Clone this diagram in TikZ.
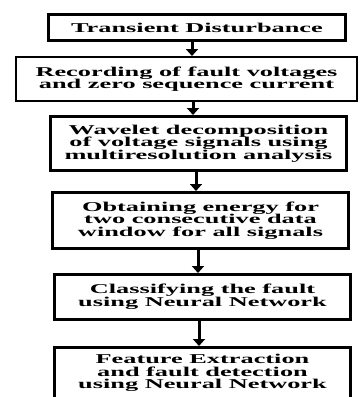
\documentclass[tikz,border=0pt]{standalone}
\usepackage{fontspec}
\setmainfont{Liberation Serif}[FakeStretch=1.95]
\usetikzlibrary{arrows.meta}
\begin{document}
\begin{tikzpicture}[x=1pt,y=-1pt,
  stepbox/.style={draw=black,line width=3pt,align=center,inner sep=0pt,
    font=\fontsize{13.5}{12.6}\selectfont\bfseries},
  arr/.style={line width=3pt,-{Triangle[width=12pt,length=7pt]}}]
\clip (0,0) rectangle (361,397);
\useasboundingbox (0,0) rectangle (361,397);
\fill[white] (0,0) rectangle (361,397);
\node[stepbox,minimum width=297pt,minimum height=26pt] (b1) at (197,27.5) {Transient Disturbance};
\node[stepbox,line width=2pt,minimum width=341pt,minimum height=44pt] (b2) at (186.5,79) {Recording of fault voltages\\and zero sequence current};
\node[stepbox,minimum width=296pt,minimum height=54pt] (b3) at (198.5,143.5) {Wavelet decomposition\\of voltage signals using\\multiresolution analysis};
\node[stepbox,minimum width=296pt,minimum height=56pt] (b4) at (200.5,220.5) {Obtaining energy for\\two consecutive data\\window for all signals};
\node[stepbox,minimum width=296pt,minimum height=45pt] (b5) at (202.5,297) {Classifying the fault\\using Neural Network};
\node[stepbox,minimum width=296pt,minimum height=51pt] (b6) at (202.5,373) {Feature Extraction\\and fault detection\\using Neural Network};
\coordinate (a1) at (192,0);
\coordinate (a2) at (193,0);
\coordinate (a3) at (196,0);
\coordinate (a4) at (198,0);
\coordinate (a5) at (199,0);
\draw[arr] (b1.south -| a1) -- (b2.north -| a1);
\draw[arr] (b2.south -| a2) -- (b3.north -| a2);
\draw[arr] (b3.south -| a3) -- (b4.north -| a3);
\draw[arr] (b4.south -| a4) -- (b5.north -| a4);
\draw[arr] (b5.south -| a5) -- (b6.north -| a5);
\end{tikzpicture}
\end{document}
